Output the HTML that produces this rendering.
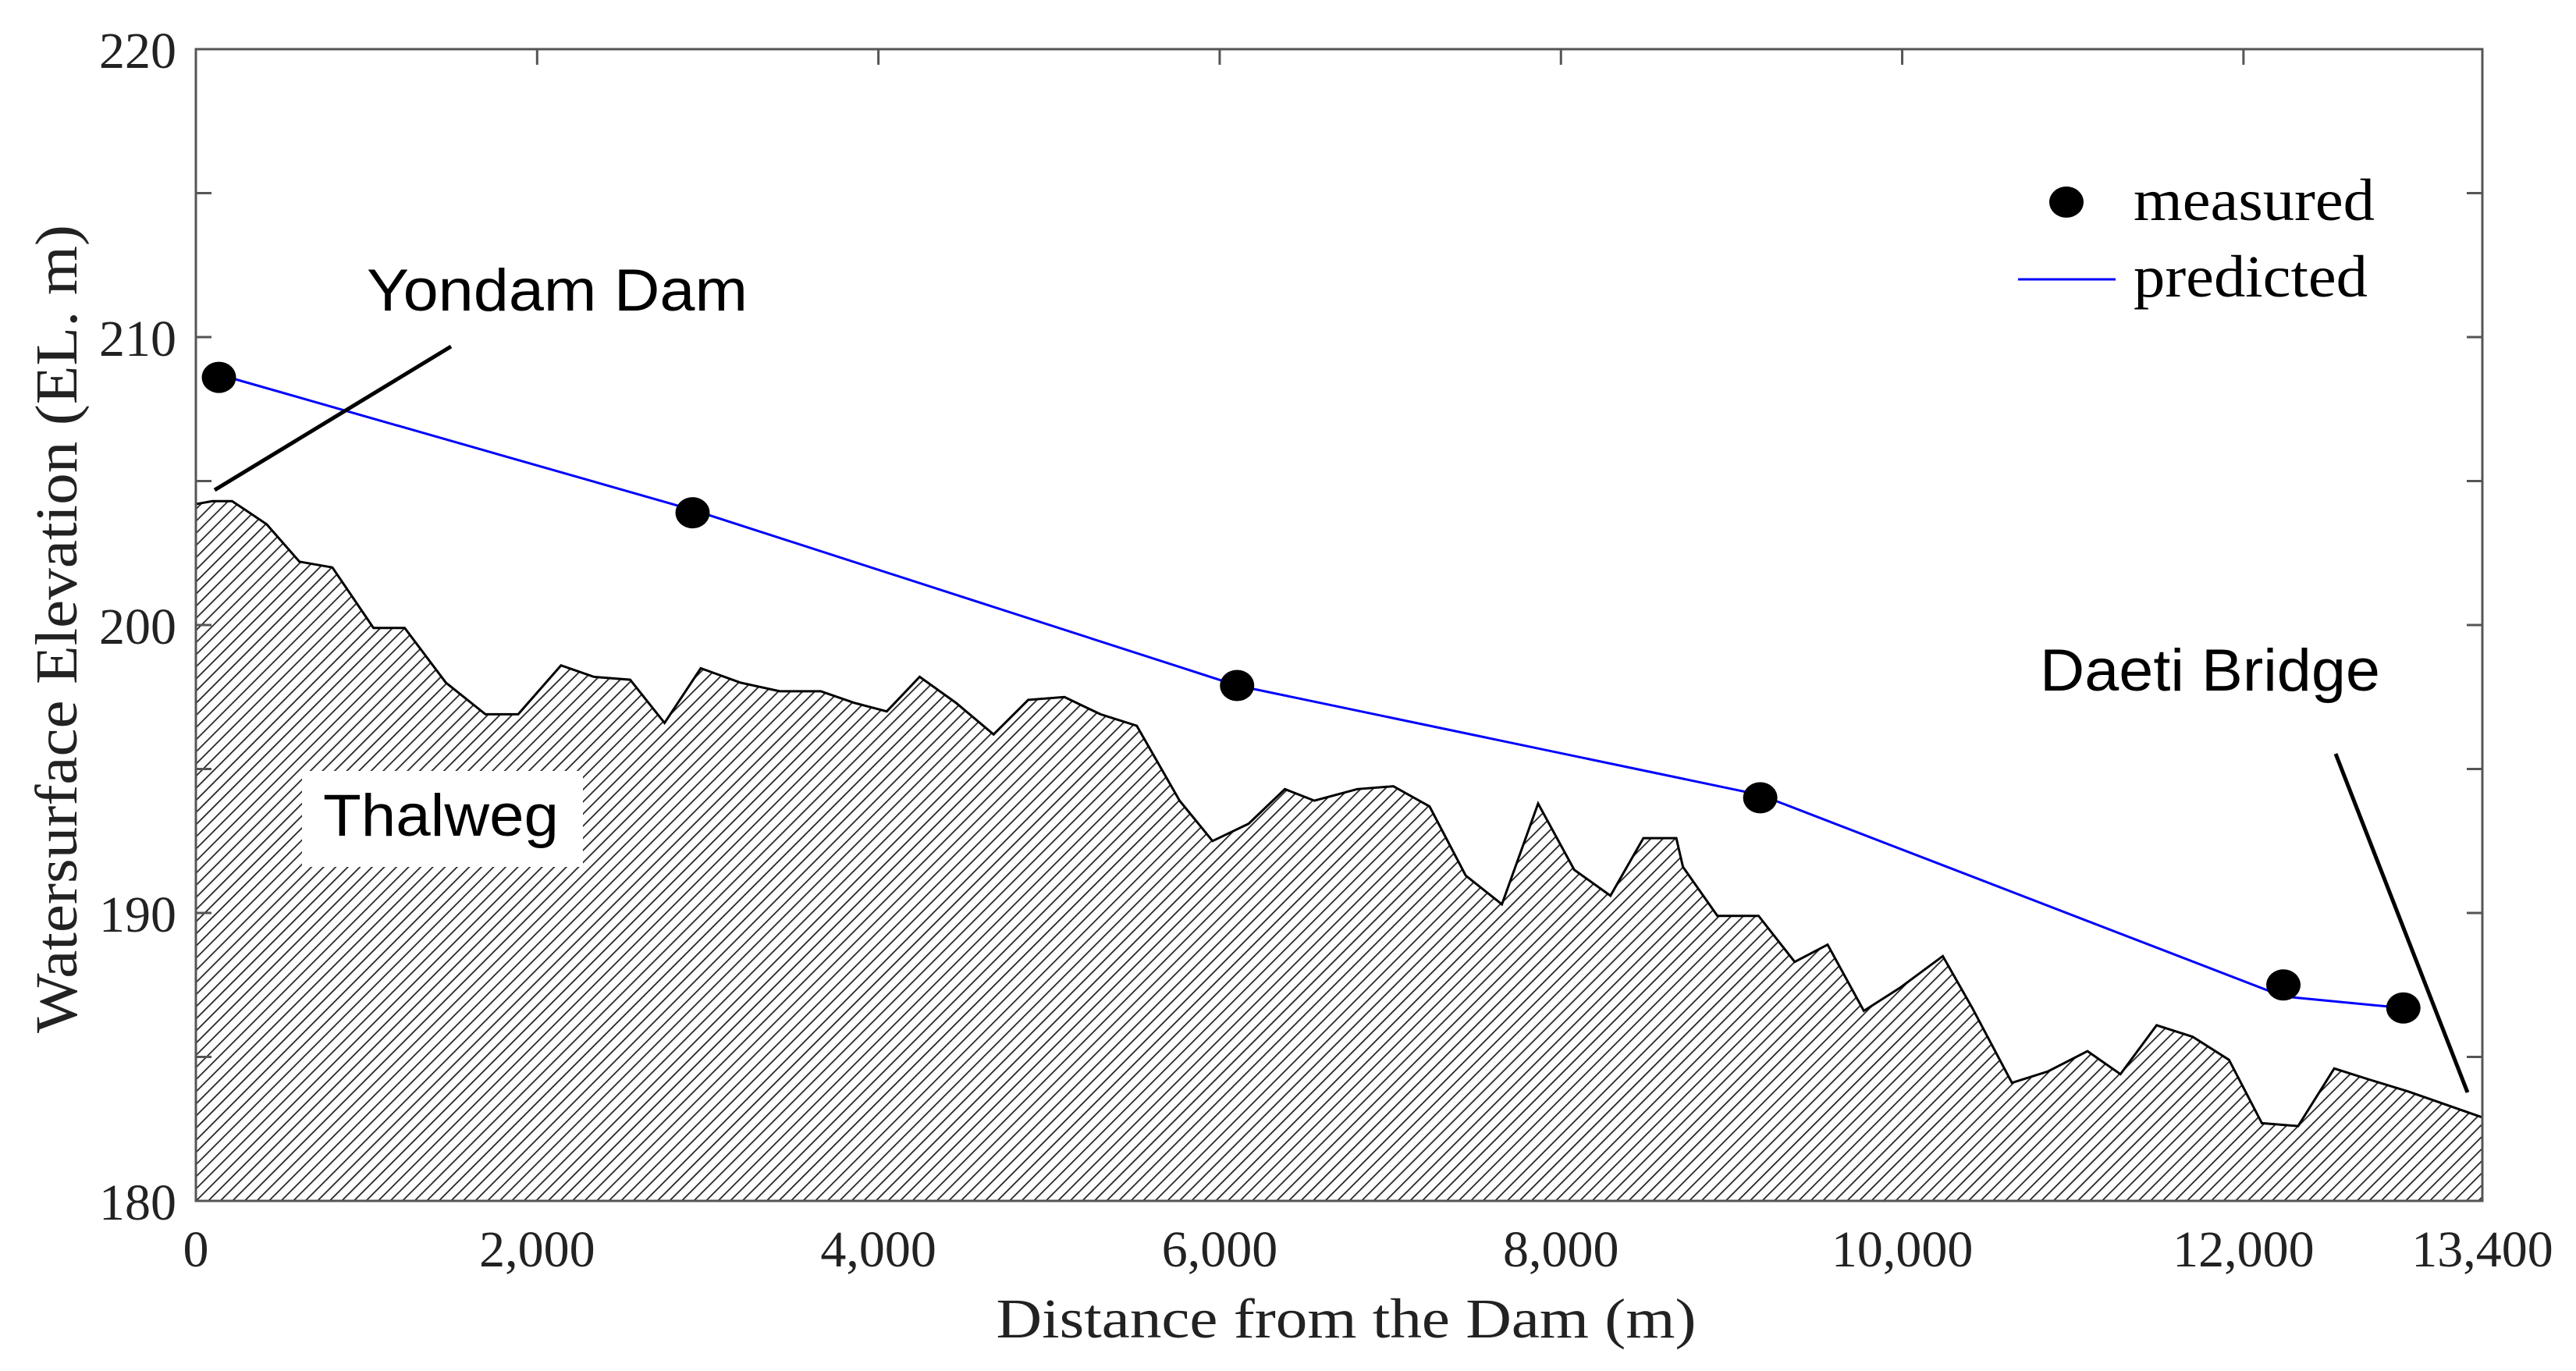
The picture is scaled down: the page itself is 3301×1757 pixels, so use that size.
<!DOCTYPE html>
<html><head><meta charset="utf-8"><style>
html,body{margin:0;padding:0;background:#fff;}
body{position:relative;}
svg{display:block;}
</style></head><body>
<svg id="chart" width="3301" height="1757" viewBox="0 0 3301 1757" xmlns="http://www.w3.org/2000/svg">
<defs>
<pattern id="hatch" patternUnits="userSpaceOnUse" width="11" height="11" patternTransform="rotate(45)">
<rect width="11" height="11" fill="#fff"/>
<line x1="0" y1="0" x2="0" y2="11" stroke="#222" stroke-width="3.5"/>
</pattern>
</defs>
<g id="plot"></g>
</svg>
<script>
const thalwegX=[0,96,212,289,415,607,800,1041,1224,1465,1697,1889,2140,2333,2545,2747,2959,3191,3422,3663,3856,4049,4242,4454,4675,4878,5090,5302,5514,5765,5958,6170,6382,6555,6806,7018,7230,7442,7654,7866,8078,8290,8483,8676,8715,8917,9158,9370,9563,9775,9987,10238,10411,10643,10855,11086,11279,11491,11703,11915,12108,12320,12532,12744,12966,13400];
const thalwegY=[204.2,204.3,204.3,204.0,203.5,202.2,202.0,199.9,199.9,198.0,196.9,196.9,198.6,198.2,198.1,196.6,198.5,198.0,197.7,197.7,197.3,197.0,198.2,197.3,196.2,197.4,197.5,196.9,196.5,193.9,192.5,193.1,194.3,193.9,194.3,194.4,193.7,191.3,190.3,193.8,191.5,190.6,192.6,192.6,191.6,189.9,189.9,188.3,188.9,186.6,187.4,188.5,186.7,184.1,184.5,185.2,184.4,186.1,185.7,184.9,182.7,182.6,184.6,184.2,183.8,182.9];
const measuredX=[135,2911,6102,9168,12234,12937];
const measuredY=[208.6,203.9,197.9,194.0,187.5,186.7];
const predictedX=[135,2911,6102,9168,12234,12937];
const predictedY=[208.7,204.0,197.9,194.1,187.1,186.7];
const xTicks=[0,2000,4000,6000,8000,10000,12000,13400];
const xTickLabels=["0","2,000","4,000","6,000","8,000","10,000","12,000","13,400"];
const yTicks=[180,190,200,210,220];
const yMinor=[185,195,205,215];

const L=251,R=3181,T=63,B=1539;
const sx=v=>L+(v-0)/(13400)*(R-L);
const sy=v=>B-(v-180)/40*(B-T);
const NS="http://www.w3.org/2000/svg";
const g=document.getElementById('plot');
function mk(tag,attrs,parent){const e=document.createElementNS(NS,tag);for(const k in attrs)e.setAttribute(k,attrs[k]);(parent||g).appendChild(e);return e;}

let d='M'+sx(0)+','+B;
thalwegX.forEach((x,i)=>{d+=' L'+sx(x).toFixed(1)+','+sy(thalwegY[i]).toFixed(1);});
d+=' L'+R+','+B+' Z';
const area=mk('path',{d:d,fill:'url(#hatch)',stroke:'none'});


let dl='';
thalwegX.forEach((x,i)=>{dl+=(i?' L':'M')+sx(x).toFixed(1)+','+sy(thalwegY[i]).toFixed(1);});
const tl=mk('path',{d:dl,fill:'none',stroke:'#000','stroke-width':3});



const fr=mk('rect',{x:L,y:T,width:R-L,height:B-T,fill:'none',stroke:'#555','stroke-width':3});



xTicks.forEach((v,i)=>{
  if(i>0&&i<xTicks.length-1){const t=mk('line',{x1:sx(v),x2:sx(v),y1:T,y2:T+20,stroke:'#555','stroke-width':3});
  
  }
  const tx=mk('text',{x:sx(v),y:1623,'text-anchor':'middle','font-family':'Liberation Serif, serif','font-size':66,fill:'#222'});
  tx.textContent=xTickLabels[i];
  
  
});
yTicks.forEach(v=>{
  const tx=mk('text',{x:226,y:sy(v)+24,'text-anchor':'end','font-family':'Liberation Serif, serif','font-size':66,fill:'#222'});
  tx.textContent=String(v);
  
  
  if(v>180&&v<220){
    const a=mk('line',{x1:L,x2:L+20,y1:sy(v),y2:sy(v),stroke:'#555','stroke-width':3});
    
    
    const b=mk('line',{x1:R-20,x2:R,y1:sy(v),y2:sy(v),stroke:'#555','stroke-width':3});
    
    
  }
});
yMinor.forEach(v=>{
  const a=mk('line',{x1:L,x2:L+20,y1:sy(v),y2:sy(v),stroke:'#555','stroke-width':3});
  
  
  const b=mk('line',{x1:R-20,x2:R,y1:sy(v),y2:sy(v),stroke:'#555','stroke-width':3});
  
  
});

let dp='';
predictedX.forEach((x,i)=>{dp+=(i?' L':'M')+sx(x).toFixed(1)+','+sy(predictedY[i]).toFixed(1);});
const pl=mk('path',{d:dp,fill:'none',stroke:'#0000ff','stroke-width':3});


measuredX.forEach((x,i)=>{
  const c=mk('ellipse',{cx:sx(x),cy:sy(measuredY[i]),rx:22,ry:20,fill:'#000'});
  
  
});
</script>
<svg style="position:absolute;left:0;top:0" width="3301" height="1757">
<line x1="275" y1="628" x2="578" y2="444" stroke="#000" stroke-width="5"/>
<text x="470" y="398" font-family="Liberation Sans, sans-serif" font-size="76" textLength="488" lengthAdjust="spacingAndGlyphs">Yondam Dam</text>
<rect x="387" y="988" width="360" height="123" fill="#fff"/>
<text x="414" y="1071" font-family="Liberation Sans, sans-serif" font-size="76" textLength="302" lengthAdjust="spacingAndGlyphs">Thalweg</text>
<line x1="2993" y1="966" x2="3162" y2="1400" stroke="#000" stroke-width="5"/>
<text x="2614" y="885" font-family="Liberation Sans, sans-serif" font-size="76" textLength="436" lengthAdjust="spacingAndGlyphs">Daeti Bridge</text>
<ellipse cx="2648" cy="259" rx="22" ry="20" fill="#000"/>
<text x="2734" y="282" font-family="Liberation Serif, serif" font-size="76" textLength="309" lengthAdjust="spacingAndGlyphs">measured</text>
<line x1="2586" y1="358" x2="2711" y2="358" stroke="#0000ff" stroke-width="3"/>
<text x="2734" y="380" font-family="Liberation Serif, serif" font-size="76" textLength="300" lengthAdjust="spacingAndGlyphs">predicted</text>
<text x="1725" y="1714" text-anchor="middle" font-family="Liberation Serif, serif" font-size="72" textLength="897" lengthAdjust="spacingAndGlyphs" fill="#222">Distance from the Dam (m)</text>
<text x="0" y="0" transform="translate(98,806) rotate(-90)" text-anchor="middle" font-family="Liberation Serif, serif" font-size="76" textLength="1036" lengthAdjust="spacingAndGlyphs" fill="#222">Watersurface Elevation (EL. m)</text>
</svg>
</body></html>
